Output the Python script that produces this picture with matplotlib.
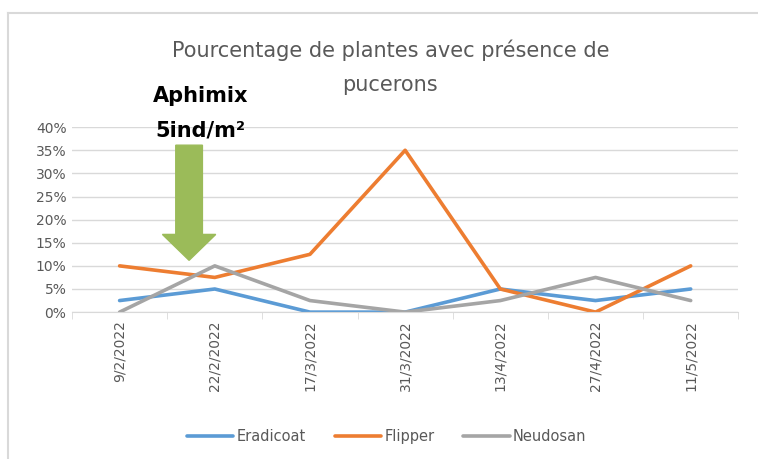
import numpy as np
import matplotlib.pyplot as plt
from matplotlib.patches import FancyArrow
from matplotlib.lines import Line2D

dates = ["9/2/2022", "22/2/2022", "17/3/2022", "31/3/2022", "13/4/2022", "27/4/2022", "11/5/2022"]
eradicoat = [2.5, 5, 0, 0, 5, 2.5, 5]
flipper = [10, 7.5, 12.5, 35, 5, 0, 10]
neudosan = [0, 10, 2.5, 0, 2.5, 7.5, 2.5]

series = {"Eradicoat": (eradicoat, "#5B9BD5"),
          "Flipper": (flipper, "#ED7D31"),
          "Neudosan": (neudosan, "#A5A5A5")}
text_col = "#595959"

fig = plt.figure(figsize=(7.58, 4.59), dpi=100)
ax = fig.add_axes([0.095, 0.32, 0.879, 0.403])

x = np.arange(len(dates))
for name, (vals, col) in series.items():
    ax.plot(x, vals, color=col, lw=2.6, label=name, solid_capstyle="round")

ax.set_xlim(-0.5, len(dates) - 0.5)
ax.set_ylim(0, 40)
ax.set_yticks(np.arange(0, 41, 5))
ax.set_yticklabels([f"{v}%" for v in range(0, 41, 5)], color=text_col, fontsize=10)
ax.set_xticks(x)
ax.set_xticklabels(dates, rotation=90, color=text_col, fontsize=10)
ax.set_xticks(np.arange(-0.5, len(dates)), minor=True)
ax.tick_params(axis="x", which="major", length=0, pad=6)
ax.tick_params(axis="x", which="minor", length=5, color="#D9D9D9")
ax.tick_params(axis="y", length=0, pad=4)
ax.grid(axis="y", color="#D9D9D9", lw=1)
ax.set_axisbelow(True)
for s in ["top", "right", "left"]:
    ax.spines[s].set_visible(False)
ax.spines["bottom"].set_color("#D9D9D9")

fig.text(0.515, 0.89, "Pourcentage de plantes avec présence de", ha="center", va="center",
         fontsize=15, color=text_col)
fig.text(0.515, 0.815, "pucerons", ha="center", va="center", fontsize=15, color=text_col)

# annotation: Aphimix release
fig.text(0.265, 0.79, "Aphimix", ha="center", va="center", fontsize=15, fontweight="bold")
fig.text(0.265, 0.715, "5ind/m²", ha="center", va="center", fontsize=15, fontweight="bold")
arrow = FancyArrow(0.73, 36.1, 0, -24.9, width=0.28, head_width=0.56, head_length=5.6,
                   length_includes_head=True, color="#9BBB59", transform=ax.transData,
                   clip_on=False)
ax.add_patch(arrow)

leg = fig.legend(loc="center", bbox_to_anchor=(0.51, 0.048), ncol=3, frameon=False,
                 fontsize=10.5, handlelength=3.2, handletextpad=0.2, columnspacing=2.0)
for t in leg.get_texts():
    t.set_color(text_col)

# chart frame (top and left edges only visible)
fig.add_artist(Line2D([0.011, 1.0], [0.972, 0.972], transform=fig.transFigure,
                      color="#D9D9D9", lw=1.5))
fig.add_artist(Line2D([0.011, 0.011], [0.0, 0.972], transform=fig.transFigure,
                      color="#D9D9D9", lw=1.5))

fig.savefig("out.png", dpi=100)
